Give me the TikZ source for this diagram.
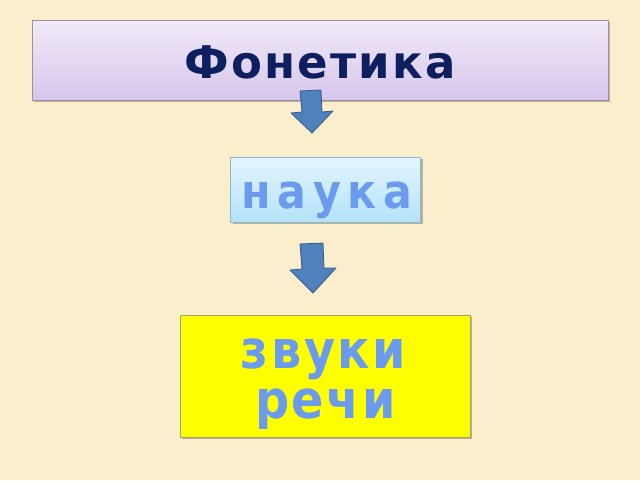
\documentclass[tikz,border=0pt]{standalone}
\usepackage{fontspec}
\setmainfont{DejaVu Sans}
\newfontfamily\dvtitle{DejaVu Sans}[LetterSpace=5]
\newfontfamily\dvsci{DejaVu Sans Condensed}[LetterSpace=14]
\newfontfamily\dvt{DejaVu Sans Condensed}[LetterSpace=5]
\usetikzlibrary{shadows}
\definecolor{bgc}{HTML}{FAEECC}
\definecolor{titlec}{HTML}{0D1F5E}
\definecolor{bluetxt}{HTML}{6A9BEF}
\definecolor{arrowf}{HTML}{4F81BD}
\definecolor{arrowd}{HTML}{375C8C}
\definecolor{lavtop}{HTML}{F1EAF8}
\definecolor{lavbot}{HTML}{D7C6EC}
\definecolor{lavd}{HTML}{9A91A6}
\definecolor{cyantop}{HTML}{E3F5FF}
\definecolor{cyanbot}{HTML}{B5E2FA}
\definecolor{cyand}{HTML}{86B9CC}
\definecolor{yelc}{HTML}{FFFF00}
\definecolor{yeld}{HTML}{A3A35C}
\tikzset{
  boxshadow/.style={drop shadow={shadow xshift=2pt,shadow yshift=-2pt,fill=black,opacity=0.25}},
  titlebox/.style={boxshadow,draw=lavd,line width=1pt,top color=lavtop,bottom color=lavbot,minimum width=576pt,minimum height=80pt,inner sep=0pt},
  sciencebox/.style={boxshadow,draw=cyand,line width=1pt,top color=cyantop,bottom color=cyanbot,minimum width=190pt,minimum height=65pt,inner sep=0pt},
  soundbox/.style={boxshadow,draw=yeld,line width=1pt,fill=yelc,minimum width=290pt,minimum height=122pt,inner sep=0pt,align=center},
  downarrow/.style={fill=arrowf,draw=arrowd,line width=0.8pt,line join=round}
}
\begin{document}
\begin{tikzpicture}[x=1pt,y=-1pt]
\fill[bgc] (0,0) rectangle (640,480);
\useasboundingbox (0,0) rectangle (640,480);
\node[titlebox] (title) at (320,60) {};
\node[text=titlec,font=\dvtitle\bfseries\fontsize{45}{50}\selectfont,anchor=base] (titletext) at (320,78) {Фонетика};
% arrow 1
\draw[downarrow] (300,91) -- (321,90) -- (322,112) -- (333,111) -- (312,133) -- (291,113) -- (302,112) -- cycle;
\node[sciencebox] (nauka) at (325.5,189.5) {};
\node[text=bluetxt,font=\dvsci\bfseries\fontsize{47.5}{50}\selectfont,anchor=base] (naukatext) at (327,208) {наука};
% arrow 2
\draw[downarrow] (300,244) -- (323,243) -- (324,268) -- (336,268) -- (313,293) -- (290,270) -- (302,269) -- cycle;
\node[soundbox] (zvuki) at (325,376) {};
\node[text=bluetxt,font=\dvt\bfseries\fontsize{53}{50}\selectfont,anchor=base] (zvukitext) at (323.5,368) {звуки};
\node[text=bluetxt,font=\dvt\bfseries\fontsize{53}{50}\selectfont,anchor=base] (rechitext) at (325.5,418) {речи};
\end{tikzpicture}
\end{document}
